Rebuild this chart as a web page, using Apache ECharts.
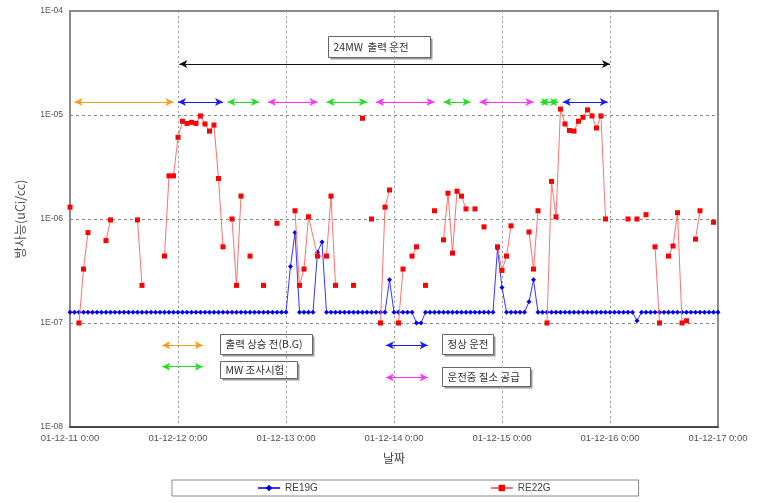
<!DOCTYPE html>
<html>
<head>
<meta charset="utf-8">
<script src="https://cdn.jsdelivr.net/npm/echarts@6/dist/echarts.min.js"></script>
<style>
  html, body { margin: 0; padding: 0; background: #fff; }
  #chart { width: 757px; height: 503px; }
</style>
</head>
<body>
<div id="chart"></div>
<script>
// Time axis in hours from 01-12-11 0:00, one tick per day
const dayLabels = ['01-12-11 0:00', '01-12-12 0:00', '01-12-13 0:00', '01-12-14 0:00',
                   '01-12-15 0:00', '01-12-16 0:00', '01-12-17 0:00'];
const decadeLabels = { '-8': '1E-08', '-7': '1E-07', '-6': '1E-06', '-5': '1E-05', '-4': '1E-04' };

// RE19G hourly readings (uCi/cc), hour 0 .. 144
const B = 1.27e-7;
const re19g = [
  B, B, B, B, B, B, B, B, B, B, B, B, B, B, B, B, B, B, B, B, B, B, B, B,
  B, B, B, B, B, B, B, B, B, B, B, B, B, B, B, B, B, B, B, B, B, B, B, B,
  B, 3.5e-7, 7.4e-7, B, B, B, B, 4.8e-7, 6.0e-7, B, B, B, B, B, B, B, B, B, B, B, B, B, B, 2.6e-7, B, B,
  B, B, B, 1.0e-7, 1.0e-7, B, B, B, B, B, B, B, B, B, B, B, B, B, B, B, B, 5.2e-7, 2.2e-7,
  B, B, B, B, B, 1.6e-7, 2.6e-7, B, B, B, B, B, B, B, B, B, B, B, B, B, B, B, B, B, B, B, B, B, B,
  1.05e-7, B, B, B, B, B, B, B, B, B, B, B, B, B, B, B, B, B, B
];

// RE22G readings as [hour, uCi/cc]; each inner list is one continuous run
const re22gRuns = [
  [[0, 1.3e-6]],
  [[2, 1.0e-7], [3, 3.3e-7], [4, 7.4e-7]],
  [[8, 6.2e-7], [9, 9.8e-7]],
  [[15, 9.8e-7], [16, 2.3e-7]],
  [[21, 4.4e-7], [22, 2.6e-6], [23, 2.6e-6], [24, 6.1e-6], [25, 8.7e-6], [26, 8.3e-6], [27, 8.5e-6],
   [28, 8.3e-6], [29, 9.8e-6], [30, 8.2e-6], [31, 7.0e-6], [32, 8.0e-6], [33, 2.45e-6], [34, 5.4e-7]],
  [[36, 1.0e-6], [37, 2.3e-7], [38, 1.66e-6]],
  [[40, 4.4e-7]],
  [[43, 2.3e-7]],
  [[46, 9.1e-7]],
  [[50, 1.2e-6], [51, 2.3e-7], [52, 3.3e-7], [53, 1.05e-6], [55, 4.4e-7], [57, 4.4e-7], [58, 1.66e-6], [59, 2.3e-7]],
  [[63, 2.3e-7]],
  [[65, 9.3e-6]],
  [[67, 1.0e-6]],
  [[69, 1.0e-7], [70, 1.3e-6], [71, 1.9e-6]],
  [[73, 1.0e-7], [74, 3.3e-7]],
  [[76, 4.4e-7], [77, 5.4e-7]],
  [[79, 2.3e-7]],
  [[81, 1.2e-6]],
  [[83, 6.3e-7], [84, 1.77e-6], [85, 4.7e-7], [86, 1.85e-6], [87, 1.66e-6], [88, 1.25e-6]],
  [[90, 1.25e-6]],
  [[92, 8.4e-7]],
  [[95, 5.4e-7], [96, 3.2e-7], [97, 4.4e-7], [98, 8.6e-7]],
  [[102, 7.5e-7], [103, 3.3e-7], [104, 1.2e-6]],
  [[106, 1.0e-7], [107, 2.3e-6], [108, 1.05e-6], [109, 1.14e-5], [110, 8.2e-6], [111, 7.1e-6], [112, 7.0e-6],
   [113, 8.7e-6], [114, 9.5e-6], [115, 1.12e-5], [116, 9.8e-6], [117, 7.5e-6], [118, 9.8e-6], [119, 1.0e-6]],
  [[124, 1.0e-6]],
  [[126, 1.0e-6]],
  [[128, 1.1e-6]],
  [[130, 5.4e-7], [131, 1.0e-7]],
  [[133, 4.4e-7], [134, 5.5e-7], [135, 1.15e-6], [136, 1.0e-7], [137, 1.05e-7]],
  [[139, 6.4e-7], [140, 1.2e-6]],
  [[143, 9.3e-7]]
];

// Operating phases along the top row: [start hour, end hour, phase]
const phaseSpans = [
  [1, 23, 'bg'], [24, 34, 'normal'], [35, 42, 'mw'], [44, 55, 'n2'], [57, 66, 'mw'],
  [68, 81, 'n2'], [83, 89, 'mw'], [91, 103, 'n2'], [104.5, 106.5, 'mw'], [106.5, 108.5, 'mw'],
  [109.5, 119.5, 'normal']
];
const fullPowerSpan = [24.3, 120];
const phaseNames = {
  bg: '출력 상승 전(B.G)', mw: 'MW 조사시험', normal: '정상 운전', n2: '운전중 질소 공급'
};
const phaseColors = { bg: '#ff9a1a', mw: '#1ee01e', normal: '#1a1aff', n2: '#ff33ff' };

const blueData = re19g.map((v, h) => [h, v]);
const redData = [];
re22gRuns.forEach((run, i) => {
  if (i > 0) redData.push([run[0][0], '-']);
  run.forEach(p => redData.push(p));
});

const arrowY = 1.33e-5;
const fullPowerY = 3.1e-5;
const markLines = [];
phaseSpans.forEach(([a, b, k]) => {
  markLines.push([
    { coord: [a, arrowY], lineStyle: { color: phaseColors[k] }, itemStyle: { color: phaseColors[k] } },
    { coord: [b, arrowY] }
  ]);
});
markLines.push([
  { coord: [fullPowerSpan[0], fullPowerY], lineStyle: { color: '#111' }, itemStyle: { color: '#111' } },
  { coord: [fullPowerSpan[1], fullPowerY] }
]);
// key arrows beside the phase descriptions
const keyArrows = [
  [20.5, 29.5, 6.1e-8, 'bg'], [20.5, 29.5, 3.8e-8, 'mw'],
  [70.2, 79.5, 6.1e-8, 'normal'], [70.2, 79.5, 3.0e-8, 'n2']
];
keyArrows.forEach(([a, b, y, k]) => {
  markLines.push([
    { coord: [a, y], lineStyle: { color: phaseColors[k] }, itemStyle: { color: phaseColors[k] } },
    { coord: [b, y] }
  ]);
});

const font = 'Liberation Sans, Arial, sans-serif';
const krFont = '"Noto Sans CJK KR", sans-serif';

function boxLabel(x, y, w, h, text) {
  return {
    type: 'group', left: x, top: y,
    children: [
      { type: 'rect', shape: { x: 2, y: 2, width: w, height: h }, style: { fill: '#9a9a9a' } },
      { type: 'rect', shape: { x: 0, y: 0, width: w, height: h },
        style: { fill: '#fff', stroke: '#666', lineWidth: 1 } },
      { type: 'text', x: 5, y: h / 2,
        style: { text: text, fill: '#333', font: '10.5px ' + krFont, verticalAlign: 'middle' } }
    ]
  };
}

const chart = echarts.init(document.getElementById('chart'));
chart.setOption({
  animation: false,
  backgroundColor: '#fff',
  grid: { left: 70, right: 39, top: 11, bottom: 76, show: true, borderColor: '#8a8a8a', borderWidth: 2 },
  xAxis: {
    type: 'value', min: 0, max: 144, interval: 24,
    name: '날짜', nameLocation: 'middle', nameGap: 25,
    nameTextStyle: { fontFamily: krFont, fontSize: 12, color: '#444' },
    axisLine: { show: true, lineStyle: { color: '#333', width: 1.5 } },
    axisTick: { show: false },
    axisLabel: { formatter: v => dayLabels[v / 24], fontFamily: font, fontSize: 9.5, color: '#555', margin: 6 },
    splitLine: { show: true, lineStyle: { color: '#999', type: [2, 3], width: 1 } }
  },
  yAxis: {
    type: 'log', logBase: 10, min: 1e-8, max: 1e-4,
    name: '방사능(uCi/cc)', nameLocation: 'middle', nameGap: 43,
    nameTextStyle: { fontFamily: krFont, fontSize: 12.5, color: '#555' },
    axisLine: { show: true, lineStyle: { color: '#8a8a8a', width: 2 } },
    axisTick: { show: false },
    axisLabel: { formatter: v => decadeLabels[String(Math.round(Math.log10(v)))], fontFamily: font, fontSize: 8.5, color: '#555', margin: 7 },
    splitLine: { show: true, lineStyle: { color: '#888', type: [3, 3], width: 1 } }
  },
  legend: {
    left: 172, top: 480, orient: 'horizontal',
    padding: [3, 88, 3, 85], itemGap: 172, itemWidth: 22, itemHeight: 8,
    borderColor: '#888', borderWidth: 1,
    textStyle: { fontFamily: font, fontSize: 10, color: '#444' },
    data: ['RE19G', 'RE22G']
  },
  series: [
    {
      name: 'RE19G', type: 'line', data: blueData,
      symbol: 'diamond', symbolSize: 5,
      lineStyle: { color: '#3535ff', width: 1 },
      itemStyle: { color: '#0000ff' }, z: 3
    },
    {
      name: 'RE22G', type: 'line', data: redData, connectNulls: false,
      symbol: 'rect', symbolSize: 5,
      lineStyle: { color: '#ff7070', width: 1 },
      itemStyle: { color: '#ff0000' }, z: 4
    },
    {
      name: 'phases', type: 'line', data: [], silent: true,
      markLine: {
        silent: true, symbol: ['arrow', 'arrow'], symbolSize: [6, 8],
        label: { show: false },
        lineStyle: { type: 'solid', width: 1 },
        data: markLines
      }
    }
  ],
  graphic: [
    boxLabel(328, 36, 102, 21, '24MW  출력 운전'),
    boxLabel(220, 334, 92, 20, phaseNames.bg),
    boxLabel(220, 361, 77, 17, phaseNames.mw),
    boxLabel(442, 334, 51, 20, phaseNames.normal),
    boxLabel(442, 367, 88, 19, phaseNames.n2)
  ]
});
</script>
</body>
</html>
